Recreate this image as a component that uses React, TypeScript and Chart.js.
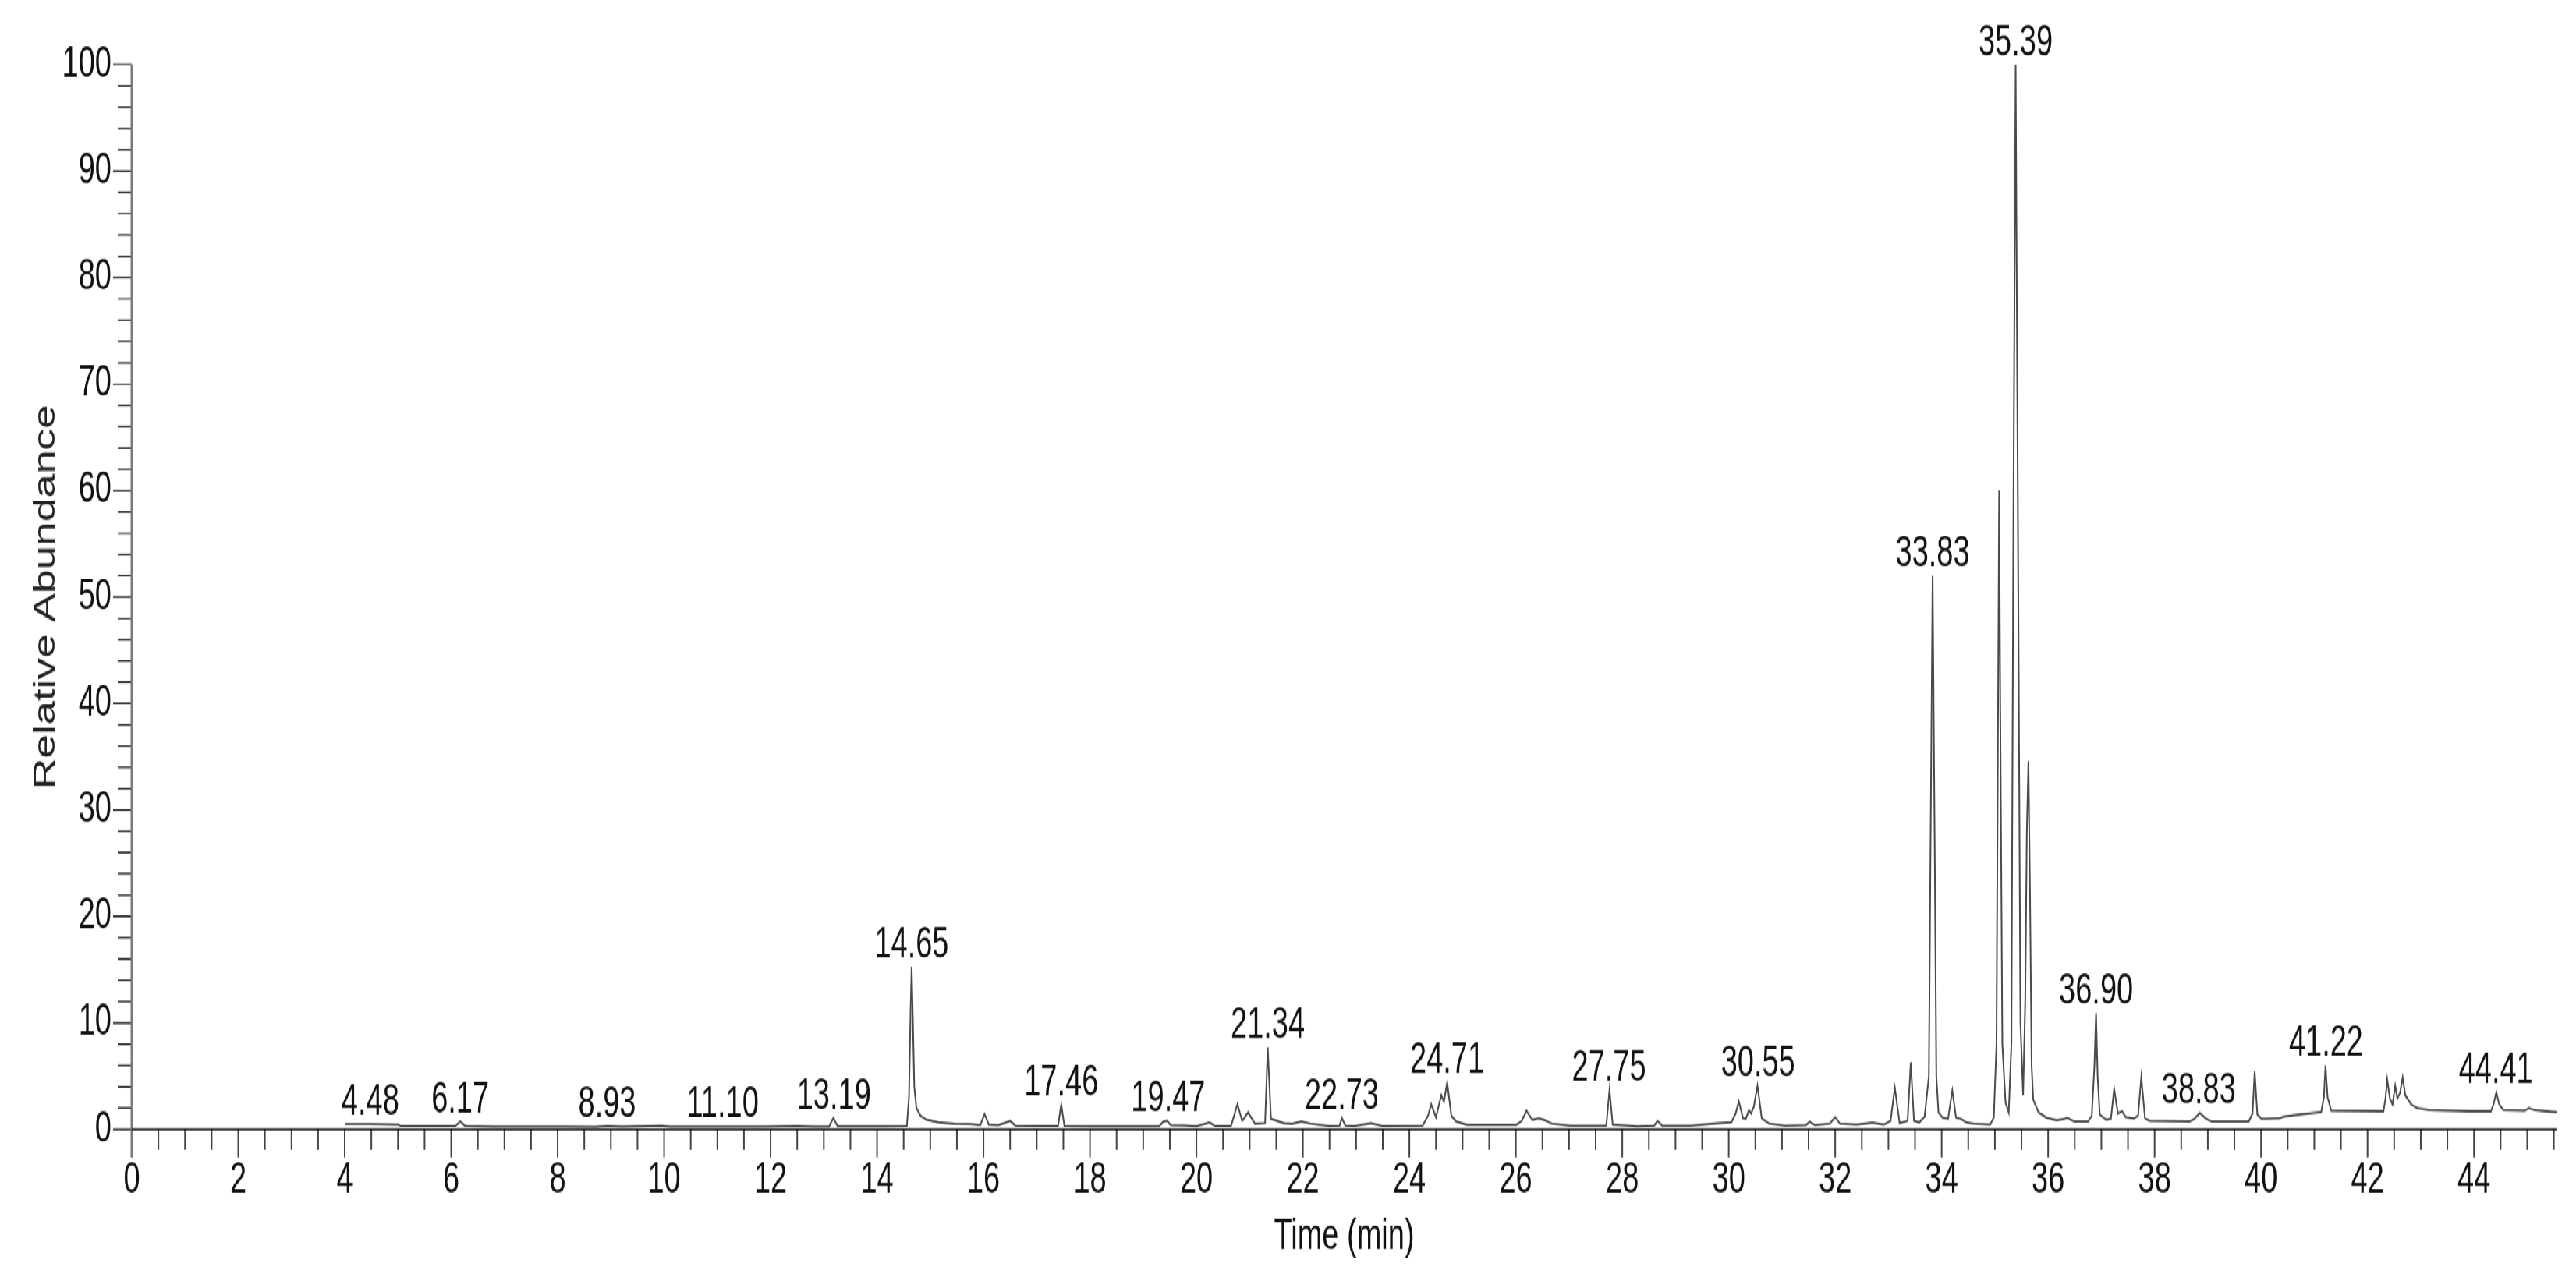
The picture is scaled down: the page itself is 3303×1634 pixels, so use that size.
import React, { useEffect, useRef } from 'react';
import { Chart, registerables } from 'chart.js';

Chart.register(...registerables);

// ---- data ----
const retentionTimes: number[] = [
  4.0, 4.48, 5.0, 5.05, 5.6, 6.08, 6.17, 6.26, 6.8, 7.5, 8.2, 8.7, 8.93, 9.2, 9.95, 10.1, 10.6, 11.1, 11.6, 11.85,
  12.2, 12.5, 12.8, 13.1, 13.18, 13.26, 13.7, 14.2, 14.56, 14.6, 14.63, 14.65, 14.67, 14.7, 14.74, 14.82, 14.93, 15.15,
  15.45, 15.75, 15.94, 16.02, 16.1, 16.28, 16.5, 16.6, 17.0, 17.4, 17.46, 17.52, 18.0, 18.6, 19.3, 19.38, 19.45, 19.52,
  19.75, 20.0, 20.25, 20.35, 20.65, 20.77, 20.86, 20.97, 21.1, 21.29, 21.34, 21.4, 21.45, 21.64, 21.8, 21.97, 22.14,
  22.48, 22.69, 22.73, 22.8, 22.98, 23.28, 23.49, 24.25, 24.35, 24.41, 24.5, 24.6, 24.65, 24.71, 24.79, 24.88, 25.09,
  26.01, 26.11, 26.2, 26.31, 26.43, 26.52, 26.68, 27.02, 27.7, 27.76, 27.82, 28.28, 28.6, 28.66, 28.75, 29.29, 29.8,
  30.05, 30.13, 30.19, 30.27, 30.32, 30.38, 30.42, 30.47, 30.54, 30.62, 30.76, 31.06, 31.45, 31.52, 31.62, 31.9, 32.0,
  32.09, 32.4, 32.7, 32.91, 33.04, 33.12, 33.21, 33.36, 33.42, 33.48, 33.58, 33.68, 33.76, 33.79, 33.83, 33.87, 33.9,
  33.94, 34.02, 34.12, 34.2, 34.27, 34.36, 34.46, 34.6, 34.91, 34.98, 35.03, 35.06, 35.08, 35.1, 35.14, 35.2, 35.26,
  35.31, 35.35, 35.39, 35.43, 35.48, 35.53, 35.57, 35.6, 35.63, 35.66, 35.69, 35.72, 35.82, 35.97, 36.16, 36.28,
  36.36, 36.49, 36.75, 36.82, 36.87, 36.9, 36.93, 36.97, 37.09, 37.18, 37.24, 37.31, 37.39, 37.46, 37.61, 37.69,
  37.75, 37.82, 37.91, 38.66, 38.75, 38.85, 38.96, 39.07, 39.77, 39.84, 39.88, 39.93, 40.01, 40.35, 40.42, 40.84,
  41.13, 41.18, 41.21, 41.25, 41.32, 42.3, 42.34, 42.37, 42.42, 42.47, 42.52, 42.56, 42.61, 42.66, 42.71, 42.82,
  42.93, 43.16, 43.91, 44.32, 44.37, 44.42, 44.47, 44.55, 44.96, 45.03, 45.14, 45.56,
];

const relativeAbundance: number[] = [
  0.5, 0.52, 0.45, 0.32, 0.32, 0.32, 0.75, 0.33, 0.28, 0.27, 0.27, 0.25, 0.32, 0.26, 0.35, 0.26, 0.27, 0.28, 0.27, 0.26,
  0.3, 0.33, 0.28, 0.28, 1.08, 0.3, 0.3, 0.3, 0.32, 3.0, 11.0, 15.3, 11.0, 4.0, 2.0, 1.27, 0.9, 0.67,
  0.55, 0.5, 0.4, 1.43, 0.45, 0.4, 0.8, 0.36, 0.32, 0.32, 2.35, 0.32, 0.3, 0.29, 0.3, 0.75, 0.8, 0.4,
  0.38, 0.3, 0.67, 0.32, 0.32, 2.35, 0.8, 1.6, 0.55, 0.6, 7.7, 1.0, 0.9, 0.6, 0.55, 0.74, 0.55,
  0.33, 0.35, 1.08, 0.36, 0.32, 0.6, 0.33, 0.36, 1.27, 2.35, 1.15, 3.2, 2.6, 4.4, 1.27, 0.74, 0.43,
  0.43, 0.8, 1.75, 0.9, 1.03, 0.9, 0.55, 0.36, 0.36, 3.7, 0.45, 0.31, 0.35, 0.8, 0.36, 0.36, 0.6,
  0.67, 1.5, 2.6, 1.03, 1.0, 1.8, 1.5, 2.1, 4.1, 1.03, 0.55, 0.36, 0.4, 0.74, 0.4, 0.55, 1.15,
  0.55, 0.45, 0.65, 0.45, 0.8, 3.9, 0.6, 0.8, 6.3, 0.8, 0.66, 1.2, 5.0, 26.0, 52.0, 26.0, 5.0,
  1.6, 1.1, 1.0, 3.66, 1.1, 1.0, 0.66, 0.55, 0.45, 1.1, 8.0, 40.0, 60.0, 40.0, 8.0, 2.5, 1.6,
  8.0, 60.0, 100.0, 60.0, 10.0, 3.2, 12.0, 28.0, 34.6, 22.0, 6.0, 2.8, 1.6, 1.1, 0.85, 0.95,
  1.08, 0.74, 0.74, 1.27, 6.0, 10.9, 5.0, 1.4, 0.9, 1.0, 3.8, 1.5, 1.7, 1.15, 1.03, 1.3,
  4.9, 1.03, 0.8, 0.74, 1.0, 1.55, 1.03, 0.74, 0.74, 1.5, 5.45, 1.4, 0.98, 1.03, 1.2, 1.46,
  1.63, 3.0, 6.0, 3.0, 1.75, 1.7, 3.0, 4.7, 2.9, 2.35, 4.1, 2.9, 3.4, 4.9, 3.2, 2.35,
  2.0, 1.8, 1.7, 1.7, 2.4, 3.5, 2.4, 1.8, 1.75, 2.0, 1.8, 1.6,
];

const peakLabels: string[] = [
  '4.48', '6.17', '8.93', '11.10', '13.19', '14.65', '17.46', '19.47', '21.34', '22.73',
  '24.71', '27.75', '30.55', '33.83', '35.39', '36.90', '38.83', '41.22', '44.41',
];

const xTickLabels: number[] = [0, 2, 4, 6, 8, 10, 12, 14, 16, 18, 20, 22, 24, 26, 28, 30, 32, 34, 36, 38, 40, 42, 44];
const yTickLabels: number[] = [0, 10, 20, 30, 40, 50, 60, 70, 80, 90, 100];

// ---- layout / style ----
const W = 3303;
const H = 1634;
const H0 = 1127; // canvas drawn at this height then stretched vertically
const S = H / H0;
const X_MAX = 45.55;
const X_MINOR = 0.5;
const Y_MINOR = 2;
const FONT = '"Liberation Sans", Arial, sans-serif';
const FONT_SIZE = 38;

const axesPlugin = {
  id: 'chromAxes',
  afterDraw(chart: any) {
    const { ctx, chartArea } = chart;
    const xs = chart.scales.x;
    const ys = chart.scales.y;
    ctx.save();
    // y ticks
    ctx.strokeStyle = '#111';
    ctx.lineWidth = 2 / S;
    for (let i = 0; i * Y_MINOR <= 100 + 1e-9; i++) {
      const v = i * Y_MINOR;
      const py = ys.getPixelForValue(v);
      const len = v % 10 === 0 ? 24 : 18;
      ctx.beginPath();
      ctx.moveTo(chartArea.left - len, py);
      ctx.lineTo(chartArea.left, py);
      ctx.stroke();
    }
    // x ticks
    ctx.strokeStyle = '#444';
    ctx.lineWidth = 2;
    for (let i = 0; i * X_MINOR <= X_MAX + 1e-9; i++) {
      const v = i * X_MINOR;
      const px = xs.getPixelForValue(v);
      const len = (i % 4 === 0 ? 36 : 26) / S;
      ctx.beginPath();
      ctx.moveTo(px, chartArea.bottom);
      ctx.lineTo(px, chartArea.bottom + len);
      ctx.stroke();
    }
    // y axis line
    ctx.strokeStyle = '#7a7a7a';
    ctx.lineWidth = 3;
    ctx.beginPath();
    ctx.moveTo(chartArea.left, chartArea.top);
    ctx.lineTo(chartArea.left, chartArea.bottom + 36 / S);
    ctx.stroke();
    // x axis line
    ctx.strokeStyle = '#000';
    ctx.lineWidth = 2.2 / S;
    ctx.beginPath();
    ctx.moveTo(chartArea.left, chartArea.bottom);
    ctx.lineTo(chartArea.right, chartArea.bottom);
    ctx.stroke();
    ctx.restore();
  },
};

const peakLabelPlugin = {
  id: 'peakLabels',
  afterDraw(chart: any) {
    const { ctx } = chart;
    const xs = chart.scales.x;
    const ys = chart.scales.y;
    ctx.save();
    ctx.font = `${FONT_SIZE}px ${FONT}`;
    ctx.fillStyle = '#111';
    ctx.textAlign = 'center';
    ctx.textBaseline = 'alphabetic';
    peakLabels.forEach((lab) => {
      const t = parseFloat(lab);
      let m = 0;
      for (let i = 0; i < retentionTimes.length; i++) {
        if (Math.abs(retentionTimes[i] - t) <= 0.06) m = Math.max(m, relativeAbundance[i]);
      }
      const px = xs.getPixelForValue(t);
      const py = ys.getPixelForValue(m) - 12 / S;
      ctx.fillText(lab, px, py);
    });
    ctx.restore();
  },
};

export default function App() {
  const ref = useRef<HTMLCanvasElement | null>(null);
  useEffect(() => {
    if (!ref.current) return;
    Chart.defaults.font.family = FONT;
    const points = retentionTimes.map((t, i) => ({ x: t, y: relativeAbundance[i] }));
    const chart = new Chart(ref.current, {
      type: 'line',
      data: {
        datasets: [
          {
            data: points,
            borderColor: '#4a4a4a',
            borderWidth: 2,
            pointRadius: 0,
            tension: 0,
            fill: false,
            clip: false as any,
          },
        ],
      },
      options: {
        animation: false,
        responsive: false,
        devicePixelRatio: 1,
        events: [],
        layout: { padding: { top: 83 / S, right: 25, bottom: 0, left: 0 } },
        plugins: { legend: { display: false }, tooltip: { enabled: false } },
        scales: {
          x: {
            type: 'linear',
            min: 0,
            max: X_MAX,
            afterBuildTicks: (s: any) => {
              s.ticks = xTickLabels.map((v) => ({ value: v }));
            },
            afterFit: (s: any) => {
              s.height = H0 - 1448.5 / S;
            },
            grid: { display: false, drawTicks: false },
            border: { display: false },
            ticks: {
              autoSkip: false,
              maxRotation: 0,
              minRotation: 0,
              padding: 23,
              color: '#111',
              font: { size: FONT_SIZE },
              callback: (v: any) => String(v),
            },
            title: {
              display: true,
              text: 'Time (min)',
              color: '#111',
              font: { size: FONT_SIZE },
              padding: { top: 0, bottom: 10 },
            },
          },
          y: {
            type: 'linear',
            min: 0,
            max: 100,
            afterBuildTicks: (s: any) => {
              s.ticks = yTickLabels.map((v) => ({ value: v }));
            },
            afterFit: (s: any) => {
              s.width = 169;
            },
            grid: { display: false, drawTicks: false },
            border: { display: false },
            ticks: {
              autoSkip: false,
              padding: 26,
              color: '#111',
              font: { size: FONT_SIZE },
              callback: (v: any) => String(v),
            },
            title: {
              display: true,
              text: 'Relative Abundance',
              color: '#222',
              font: { size: FONT_SIZE },
              padding: { top: 37, bottom: 0 },
            },
          },
        },
      },
      plugins: [axesPlugin, peakLabelPlugin],
    } as any);
    return () => chart.destroy();
  }, []);

  return (
    <div
      style={{
        position: 'absolute',
        left: 0,
        top: 0,
        width: W,
        height: H0,
        transform: `scaleY(${S})`,
        transformOrigin: '0 0',
        background: '#fff',
      }}
    >
      <canvas ref={ref} width={W} height={H0} style={{ display: 'block', width: W, height: H0 }} />
    </div>
  );
}
